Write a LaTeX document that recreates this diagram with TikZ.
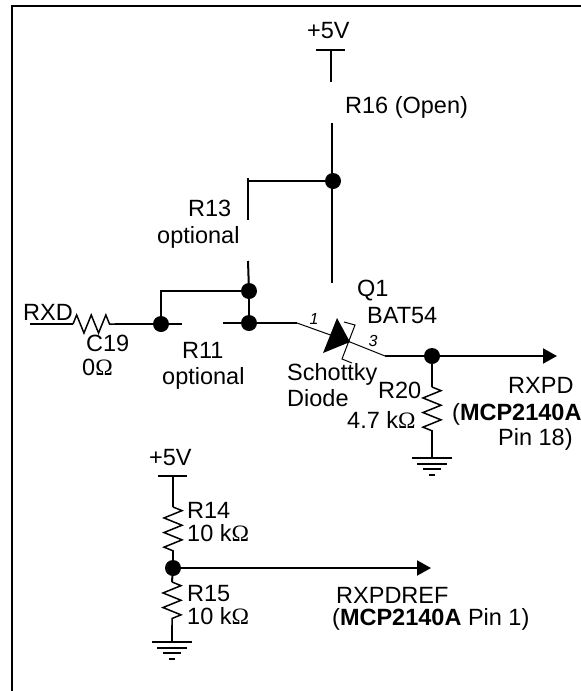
\documentclass[tikz,border=0pt]{standalone}
\usepackage{fontspec}
\setmainfont{Liberation Sans}
\newfontfamily\ohmfont{Liberation Serif}
\usetikzlibrary{
arrows.meta,
decorations,
decorations.pathmorphing
}
\newcommand{\ohm}{{\ohmfont Ω}}
\begin{document}
\begin{tikzpicture}[
      x=1pt,y=-1pt,
      wire/.style={
        line width=2pt
      },
      thinwire/.style={
        line width=1pt
      },
      arrow/.style={
        wire,
        -{Triangle[length=14pt,width=15pt]}
      },
      resistor/.style={
        line width=1.5pt,
        decorate,
        decoration={zigzag,segment length=14.6pt,amplitude=9pt}
      },
      junction/.style={
        circle,
        fill=black,
        inner sep=0pt,
        minimum size=16pt
      },
      label/.style={
        inner sep=0pt,
        anchor=base west,
        font=\fontsize{23.5}{26}\selectfont
      },
      pinno/.style={
        inner sep=0pt,
        font=\fontsize{16}{18}\selectfont\itshape
      }
    ]
    \useasboundingbox (0,0) rectangle (581,691);

    % frame
    \coordinate (f1) at (12,691);
    \coordinate (f2) at (12,6);
    \coordinate (f3) at (581,6);
    \draw[wire] (f1) -- (f2) -- (f3);

    % top supply and the open R16
    \coordinate (vtop) at (331,50);
    \coordinate (r16a) at (331,82);
    \coordinate (r16b) at (332,123);
    \coordinate (r16c) at (332,283);
    \node[junction] (j1) at (333,181) {};
    \draw[wire] ([xshift=-15pt]vtop) -- ([xshift=14pt]vtop);
    \draw[wire] (vtop) -- (r16a);
    \draw[wire] (r16b) -- (r16c);
    \node[label] (lv1) at (307,38) {+5V};
    \node[label] (l16) at (345,113) {R16 (Open)};

    % R13
    \coordinate (r13a) at (248,178);
    \coordinate (r13b) at (248,220);
    \coordinate (r13c) at (248,261);
    \node[junction] (j2) at (249,291) {};
    \draw[wire] (j1.center) -- (r13a |- j1.center);
    \draw[wire] (r13a) -- (r13b);
    \draw[wire] (r13c) -- (j2.center);
    \node[label] (l13) at (188,216) {R13};
    \node[label] (l13b) at (157,243) {optional};

    % input side
    \coordinate (rxd) at (30,324);
    \coordinate (c19a) at (73,324);
    \coordinate (c19b) at (115,324);
    \coordinate (r11a) at (182,324);
    \coordinate (r11b) at (223,323);
    \coordinate (q1in) at (297,323);
    \node[junction] (j3) at (161,324) {};
    \node[junction] (j4) at (249,323) {};
    \draw[wire] (rxd) -- (c19a);
    \draw[resistor] (c19a) -- (c19b);
    \draw[wire] (c19b) -- (r11a);
    \draw[wire] (j3.center) |- (j2.center);
    \draw[wire] (j2.center) -- (j4.center);
    \draw[wire] (r11b) -- (q1in);
    \node[label] (lrxd) at (23,320) {RXD};
    \node[label] (lc19) at (86,351) {C19};
    \node[label] (lc19b) at (82,375) {0\ohm};
    \node[label] (l11) at (182,358) {R11};
    \node[label] (l11b) at (162,384) {optional};

    % diode
    \coordinate (qc) at (350,342);
    \coordinate (q1out) at (385,356);
    \draw[thinwire] (q1in) -- (qc) -- (q1out);
    \fill (337,318) -- (qc) -- (323,353) -- cycle;
    \draw[thinwire] (344,322) -- (355,325) -- (342,359) -- (352,363);
    \node[pinno] (p1) at (314,319) {1};
    \node[pinno] (p3) at (373,341) {3};
    \node[label] (lq1) at (357,296) {Q1};
    \node[label] (lbat) at (367,323) {BAT54};
    \node[label,align=left] (lsch) at (287,406) {Schottky\\Diode};

    % output side
    \node[junction] (j5) at (432,356) {};
    \coordinate (rxpd) at (557,356);
    \coordinate (r20a) at (432,387);
    \coordinate (r20b) at (432,431);
    \coordinate (g1) at (432,458);
    \draw[wire] (q1out) -- (j5.center);
    \draw[arrow] (j5.center) -- (rxpd);
    \draw[wire] (j5.center) -- (r20a);
    \draw[resistor] (r20a) -- (r20b);
    \draw[wire] (r20b) -- (g1);
    \foreach \dy/\hw in {0/20,6/15,11/9,17/3}
      \draw[wire] ([xshift=-\hw pt,yshift=-\dy pt]g1) -- ([xshift=\hw pt,yshift=-\dy pt]g1);
    \node[label] (l20) at (378,398) {R20};
    \node[label] (l20b) at (347,428) {4.7 k\ohm};
    \node[label] (lpd) at (508,393) {RXPD};
    \node[label] (lpdb) at (452,420) {(\textbf{MCP2140A}};
    \node[label] (lpdc) at (498,445) {Pin 18)};

    % lower divider
    \coordinate (vlow) at (173,476);
    \coordinate (r14a) at (173,507);
    \coordinate (r14b) at (173,551);
    \node[junction] (j6) at (173,568) {};
    \coordinate (r15a) at (172,582);
    \coordinate (r15b) at (172,625);
    \coordinate (g2) at (172,642);
    \coordinate (pdref) at (431,568);
    \draw[wire] ([xshift=-15pt]vlow) -- ([xshift=14pt]vlow);
    \draw[wire] (vlow) -- (r14a);
    \draw[resistor] (r14a) -- (r14b);
    \draw[wire] (r14b) -- (j6.center);
    \draw[wire] (j6.center) -- (r15a);
    \draw[resistor] (r15a) -- (r15b);
    \draw[wire] (r15b) -- (g2);
    \draw[arrow] (j6.center) -- (pdref);
    \foreach \dy/\hw in {0/20,6/15,11/9,17/3}
      \draw[wire] ([xshift=-\hw pt,yshift=-\dy pt]g2) -- ([xshift=\hw pt,yshift=-\dy pt]g2);
    \node[label] (lv2) at (149,465) {+5V};
    \node[label,align=left] (l14) at (187,541) {R14\\[-3pt]10 k\ohm};
    \node[label,align=left] (l15) at (187,624) {R15\\[-3pt]10 k\ohm};
    \node[label] (lref) at (336,603) {RXPDREF};
    \node[label] (lrefb) at (332,625) {(\textbf{MCP2140A} Pin 1)};

  \end{tikzpicture}
\end{document}
